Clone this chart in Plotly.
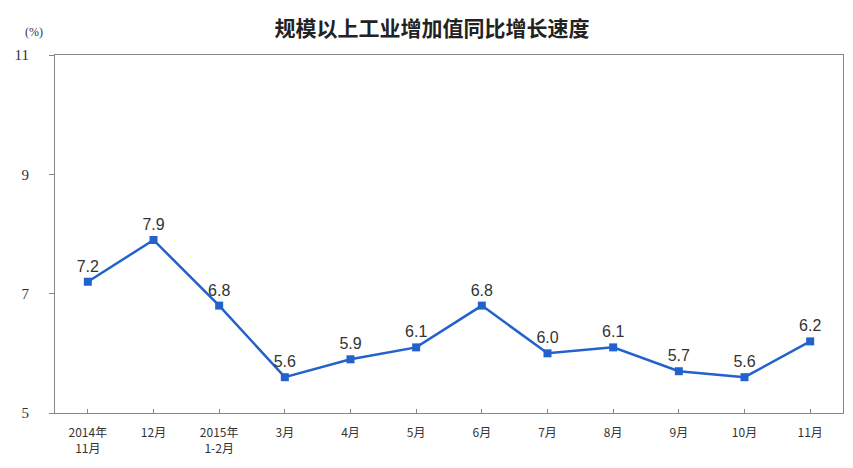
import plotly.graph_objects as go

categories = ["2014年<br>11月", "12月", "2015年<br>1-2月", "3月", "4月", "5月", "6月", "7月", "8月", "9月", "10月", "11月"]
values = [7.2, 7.9, 6.8, 5.6, 5.9, 6.1, 6.8, 6.0, 6.1, 5.7, 5.6, 6.2]
y_ticks = [5, 7, 9, 11]
title_text = "规模以上工业增加值同比增长速度"

fig = go.Figure()
fig.add_trace(go.Scatter(
    x=list(range(len(categories))), y=values,
    mode="lines+markers+text",
    text=[f"{v:.1f}" for v in values],
    textposition="top center",
    textfont=dict(family="Liberation Sans", size=16, color="#333333"),
    line=dict(color="#2262cc", width=2.5),
    marker=dict(symbol="square", size=8, color="#2262cc"),
    cliponaxis=False,
    hoverinfo="skip",
))

fig.update_layout(
    width=853, height=468,
    margin=dict(l=47, r=18, t=47, b=63, autoexpand=False),
    paper_bgcolor="white", plot_bgcolor="white",
    showlegend=False,
    title=dict(text="<b>" + title_text + "</b>", x=(432 - 55) / 788, xref="paper", xanchor="center",
               y=0.955, yref="container", yanchor="middle",
               font=dict(family="Noto Sans CJK SC", size=21, color="#222222")),
    annotations=[dict(text="(%)", xref="paper", yref="paper", x=(23 - 55) / 788, y=(413 - 23) / 358,
                      showarrow=False, font=dict(family="Liberation Serif", size=12, color="#333333"))],
)
fig.update_xaxes(
    range=[-0.5, len(categories) - 0.5],
    tickmode="array", tickvals=list(range(len(categories))), ticktext=categories,
    ticks="inside", ticklen=4, tickcolor="#888888",
    ticklabelstandoff=9,
    showgrid=False, zeroline=False, automargin=False,
    showline=True, linecolor="#888888", linewidth=1, mirror=True,
    tickfont=dict(family="Noto Sans CJK SC", size=12, color="#333333"),
)
fig.update_yaxes(
    range=[5, 11], tickmode="array", tickvals=y_ticks,
    ticks="outside", ticklen=5, tickcolor="#888888",
    ticklabelstandoff=17,
    showgrid=False, zeroline=False, automargin=False,
    showline=True, linecolor="#888888", linewidth=1, mirror=True,
    tickfont=dict(family="Liberation Serif", size=15, color="#333333"),
)
fig.write_html("out.html")
